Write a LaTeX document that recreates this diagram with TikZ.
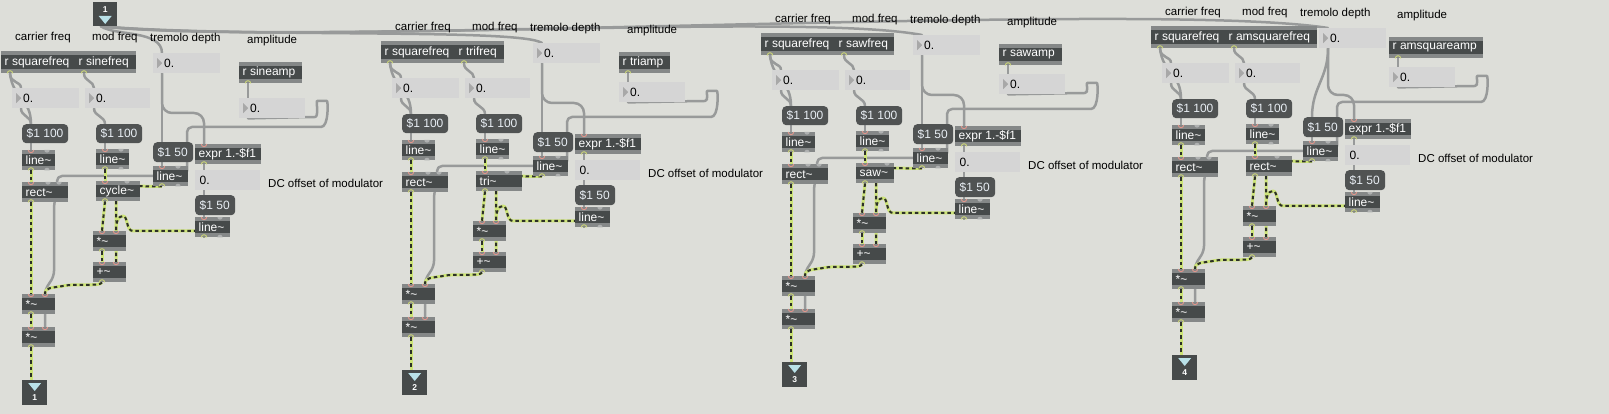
\documentclass[tikz,border=0pt]{standalone}
\usepackage{fontspec}
\setmainfont{Liberation Sans}
\pgfdeclarelayer{bgl}\pgfdeclarelayer{cordl}
\pgfsetlayers{bgl,cordl,main}
\definecolor{bgc}{RGB}{221,222,217}
\definecolor{objbody}{RGB}{70,74,74}
\definecolor{objstrip}{RGB}{133,136,136}
\definecolor{msgbody}{RGB}{80,83,83}
\definecolor{msgtext}{RGB}{232,238,244}
\definecolor{numbg}{RGB}{213,213,213}
\definecolor{numtri}{RGB}{168,168,168}
\definecolor{cordgray}{RGB}{152,154,154}
\definecolor{sigyel}{RGB}{205,228,120}
\definecolor{sigdark}{RGB}{45,48,40}
\definecolor{inred}{RGB}{226,150,140}
\definecolor{outyel}{RGB}{205,215,120}
\definecolor{ingray}{RGB}{175,177,177}
\definecolor{iotri}{RGB}{185,225,232}
\newcommand\bxf{\fontsize{12}{13}\selectfont}
\newcommand\lbf{\fontsize{11.5}{13}\selectfont}
\tikzset{
 objbox/.style={fill=objbody, anchor=north west, inner xsep=3.5pt, inner ysep=0pt, text=white, font=\bxf,
   path picture={\fill[objstrip] (path picture bounding box.north west) rectangle ([yshift=-4pt]path picture bounding box.north east);
                 \fill[objstrip] (path picture bounding box.south west) rectangle ([yshift=4pt]path picture bounding box.south east);}},
 msgbox/.style={fill=msgbody, rounded corners=4pt, anchor=north west, inner xsep=4.5pt, inner ysep=0pt, text=msgtext, font=\bxf},
 numbox/.style={fill=numbg, anchor=north west, inner sep=0pt,
   path picture={\fill[numtri] ([xshift=4pt,yshift=-5pt]path picture bounding box.north west) -- ++(0pt,-10pt) -- ++(5pt,5pt) -- cycle;}},
 numboxd/.style={fill=numbg, anchor=north west, inner sep=0pt},
 numtxt/.style={anchor=west, inner sep=0pt, font=\bxf, text=black},
 lbl/.style={anchor=west, inner sep=0pt, font=\lbf, text=black},
 iobox/.style={fill=objbody, anchor=north west, inner sep=0pt},
 iotxt/.style={inner sep=0pt, font=\fontsize{8.5}{9}\selectfont\bfseries, text=white},
 ctl/.style={draw=cordgray, line width=2.5pt, line cap=round, line join=round},
 sig/.style={draw=sigyel, line width=3pt, line join=round, postaction={draw=sigdark, line width=2pt, dash pattern=on 3.5pt off 3pt}},
 pinr/.style={draw=inred, line width=0.9pt},
 pouty/.style={draw=outyel, line width=0.9pt},
}
\newcommand\ob[6]{%
 \pgfmathsetmacro\tw{#4-7}%
 \node[objbox, minimum height=#5pt] (#1) at (#2,#3) {\makebox[\tw pt][l]{#6}};
 \coordinate (#1-i) at ([xshift=9pt]#1.north west);
 \coordinate (#1-o) at ([xshift=9pt]#1.south west);}
\newcommand\mb[6]{%
 \pgfmathsetmacro\tw{#4-9}%
 \node[msgbox, minimum height=#5pt] (#1) at (#2,#3) {\makebox[\tw pt][l]{#6}};
 \coordinate (#1-i) at ([xshift=9pt]#1.north west);
 \coordinate (#1-o) at ([xshift=9pt]#1.south west);}
\newcommand\nb[5]{%
 \node[numbox, minimum width=#4pt, minimum height=#5pt] (#1) at (#2,#3) {};
 \node[numtxt] (#1-t) at ([xshift=11pt]#1.west) {0.};
 \coordinate (#1-i) at ([xshift=9pt]#1.north west);
 \coordinate (#1-o) at ([xshift=9pt]#1.south west);}
\newcommand\nbd[5]{%
 \node[numboxd, minimum width=#4pt, minimum height=#5pt] (#1) at (#2,#3) {};
 \node[numtxt] (#1-t) at ([xshift=4.5pt]#1.west) {0.};
 \coordinate (#1-i) at ([xshift=9pt]#1.north west);
 \coordinate (#1-o) at ([xshift=9pt]#1.south west);}
\newcommand\pin[2]{\draw[pinr] ([xshift=#2pt]#1.north west) ++(-2.7,0) arc[start angle=180,end angle=0,radius=2.7];}
\newcommand\pgin[2]{\fill[ingray] ([xshift=#2pt]#1.north west) ++(-2.7,0) arc[start angle=180,end angle=0,radius=2.7] -- cycle;}
\newcommand\pout[2]{\draw[pouty] ([xshift=#2pt]#1.south west) ++(-2.7,0) arc[start angle=180,end angle=360,radius=2.7];}
\newcommand\pgout[2]{\fill[ingray] ([xshift=#2pt]#1.south west) ++(-2.7,0) arc[start angle=180,end angle=360,radius=2.7] -- cycle;}
\newcommand\sect[9]{%
\begin{scope}[shift={(#2,#3)}]
\node[lbl] (#1Lc) at (15,38) {carrier freq};
\node[lbl] (#1Lm) at (92,38) {mod freq};
\node[lbl] (#1Lt) at (150,39) {tremolo depth};
\node[lbl] (#1La) at (247,41) {amplitude};
\node[lbl] (#1Ld) at (268,183) {DC offset of modulator};
\ob{#1rcar}{1}{51}{74}{22}{r squarefreq}
\ob{#1rmod}{75}{51}{#5}{22}{#4}
\nb{#1ntrem}{\trx}{53}{67}{20}
\ob{#1ramp}{239}{62}{#9}{21}{#8}
\nb{#1ncar}{12}{88}{67}{20}
\nb{#1nmod}{85}{88}{65}{20}
\nb{#1namp}{239}{\nampy}{66}{20}
\mb{#1mcar}{22}{124}{46}{19}{\$1 100}
\mb{#1mmod}{96}{124}{46}{19}{\$1 100}
\mb{#1mtrem}{153}{142}{40}{20}{\$1 50}
\ob{#1expr}{195}{144}{66}{20}{expr 1.-\$f1}
\ob{#1lcar}{22}{150}{33}{20}{line\textasciitilde}
\ob{#1lmod}{96}{149}{33}{20}{line\textasciitilde}
\ob{#1ltrem}{153}{166}{35}{20}{line\textasciitilde}
\nbd{#1ndc}{195}{170}{65}{20}
\ob{#1rect}{22}{182}{46}{20}{rect\textasciitilde}
\ob{#1osc}{96}{181}{#7}{20}{#6}
\mb{#1mdc}{195}{195}{40}{20}{\$1 50}
\ob{#1ldc}{195}{217}{35}{20}{line\textasciitilde}
\ob{#1mulm}{93}{231}{33}{20}{*\textasciitilde}
\ob{#1add}{93}{262}{33}{20}{+\textasciitilde}
\ob{#1mul1}{22}{294}{33}{20}{*\textasciitilde}
\ob{#1mul2}{22}{327}{33}{20}{*\textasciitilde}
\coordinate (#1mulm-r) at ([xshift=23pt]#1mulm.north west);
\coordinate (#1add-r) at ([xshift=23pt]#1add.north west);
\coordinate (#1mul1-r) at ([xshift=23pt]#1mul1.north west);
\coordinate (#1mul2-r) at ([xshift=23pt]#1mul2.north west);
\node[iobox, minimum width=25pt, minimum height=25pt] (#1out) at (22,380) {};
\fill[iotri] ([xshift=-6.5pt,yshift=-3pt]#1out.north) -- ([xshift=6.5pt,yshift=-3pt]#1out.north) -- ([yshift=-11pt]#1out.north) -- cycle;
\node[iotxt] (#1outn) at ([yshift=-17.5pt]#1out.north) {\outn};
\coordinate (#1out-i) at ([xshift=9pt]#1out.north west);
% ports
\pout{#1rcar}{9}\pout{#1rmod}{9}\pout{#1ramp}{9}
\pin{#1expr}{9}\pout{#1expr}{9}
\foreach \n in {lcar,lmod,ltrem,ldc}{\pin{#1\n}{9}\pgin{#1\n}{25}\pout{#1\n}{9}\pgout{#1\n}{25}}
\pin{#1rect}{9}\pgin{#1rect}{26}\pgin{#1rect}{37}\pout{#1rect}{9}
\pin{#1osc}{9}\pgin{#1osc}{31}\pout{#1osc}{9}
\foreach \n in {mulm,add,mul1,mul2}{\pin{#1\n}{9}\pin{#1\n}{23}\pout{#1\n}{9}}
% cords
\begin{pgfonlayer}{cordl}
\draw[ctl] (#1rcar-o) .. controls +(0,10) and +(0,-7) .. (#1ncar-i);
\draw[ctl] (#1rcar-o) .. controls +(3,26) and +(0,-26) .. (#1mcar-i);
\draw[ctl] (#1ncar-o) .. controls +(0,8) and +(0,-8) .. (#1mcar-i);
\draw[ctl] (#1rmod-o) .. controls +(0,8) and +(0,-7) .. (#1nmod-i);
\draw[ctl] (#1nmod-o) .. controls +(0,8) and +(0,-8) .. (#1mmod-i);
\draw[ctl] (#1ramp-o) -- (#1namp-i);
\draw[ctl] (#1mcar-o) -- (#1lcar-i);
\draw[ctl] (#1mmod-o) -- (#1lmod-i);
\draw[ctl] (#1mtrem-o) -- (#1ltrem-i);
\draw[ctl] (#1expr-o) -- (#1ndc-i);
\draw[ctl] (#1ndc-o) -- (#1mdc-i);
\draw[ctl] (#1mdc-o) -- (#1ldc-i);
\draw[ctl] (#1ntrem-o) .. controls +(0,30) and +(0,-30) .. (#1mtrem-i);
\draw[ctl, rounded corners=10pt] (#1ntrem-o) -- ({\trx+9},\trey) -- (204,\trey) -- (#1expr-i);
\draw[ctl, rounded corners=5pt] (#1namp-o) -- (\loopx,{\nampy+19})
  .. controls ({\loopx+9},{\nampy+19}) and ({\loopx+6},101) .. ({\loopx+12},101)
  .. controls ({\loopx+18},101) and ({\loopx+19},127) .. ({\loopx+6},127)
  -- (187,127) -- (187,176) -- (57,176) -- (57,192) -- (54,204) -- (54,276) -- (45,290) -- (#1mul2-r);
\draw[sig] (#1lcar-o) -- (#1rect-i);
\draw[sig] (#1lmod-o) -- (#1osc-i);
\draw[sig] (#1rect-o) -- (#1mul1-i);
\draw[sig] (#1osc-o) -- (#1mulm-i);
\draw[sig, rounded corners=5pt] (#1ltrem-o) -- (116,186) -- (#1mulm-r);
\draw[sig] (#1ldc-o) -- (204,231) -- (133,231) .. controls (126,231) and (128,216) .. (123,216) .. controls (118,216) and (116,222) .. (116,231) -- (#1add-r);
\draw[sig] (#1mulm-o) -- (#1add-i);
\draw[sig] (#1add-o) .. controls (100,287) and (76,283) .. (63,286) .. controls (52,288) and (45,287) .. (#1mul1-r);
\draw[sig] (#1mul1-o) -- (#1mul2-i);
\draw[sig] (#1mul2-o) -- (#1out-i);
\end{pgfonlayer}
\end{scope}}
\begin{document}
\begin{tikzpicture}[x=1pt,y=-1pt]
\useasboundingbox (0,0) rectangle (1609,414);
\begin{pgfonlayer}{bgl}\fill[bgc] (0,0) rectangle (1609,414);\end{pgfonlayer}
% top inlet
\node[iobox, minimum width=24pt, minimum height=24pt] (inl) at (93,2) {};
\node[iotxt] (inln) at ([yshift=-7.5pt]inl.north) {1};
\fill[iotri] ([xshift=-6.5pt,yshift=-14pt]inl.north) -- ([xshift=6.5pt,yshift=-14pt]inl.north) -- ([yshift=-22pt]inl.north) -- cycle;
\coordinate (inl-o) at ([xshift=8pt]inl.south west);
\def\trx{153}\def\nampy{98}\def\loopx{310}\def\trey{113}\def\outn{1}
\sect{a}{0}{0}{r sinefreq}{61}{cycle\textasciitilde}{44}{r sineamp}{63}
\def\nampy{92}\def\loopx{320}\def\outn{2}
\sect{b}{380}{-10}{r trifreq}{49}{tri\textasciitilde}{46}{r triamp}{51}
\def\outn{3}
\sect{c}{760}{-18}{r sawfreq}{59}{saw\textasciitilde}{38}{r sawamp}{63}
\def\trx{169}\def\trey{120}\def\outn{4}
\sect{d}{1150}{-25}{r amsquarefreq}{92}{rect\textasciitilde}{46}{r amsquareamp}{94}
\begin{pgfonlayer}{cordl}
\draw[ctl] (inl-o) .. controls (115,36) and (162,30) .. (antrem-i);
\draw[ctl] (inl-o) .. controls (250,38) and (520,28) .. (bntrem-i);
\draw[ctl] (inl-o) .. controls (300,45) and (800,12) .. (cntrem-i);
\draw[ctl] (inl-o) .. controls (300,48) and (1150,0) .. (dntrem-i);
\end{pgfonlayer}
\end{tikzpicture}
\end{document}
